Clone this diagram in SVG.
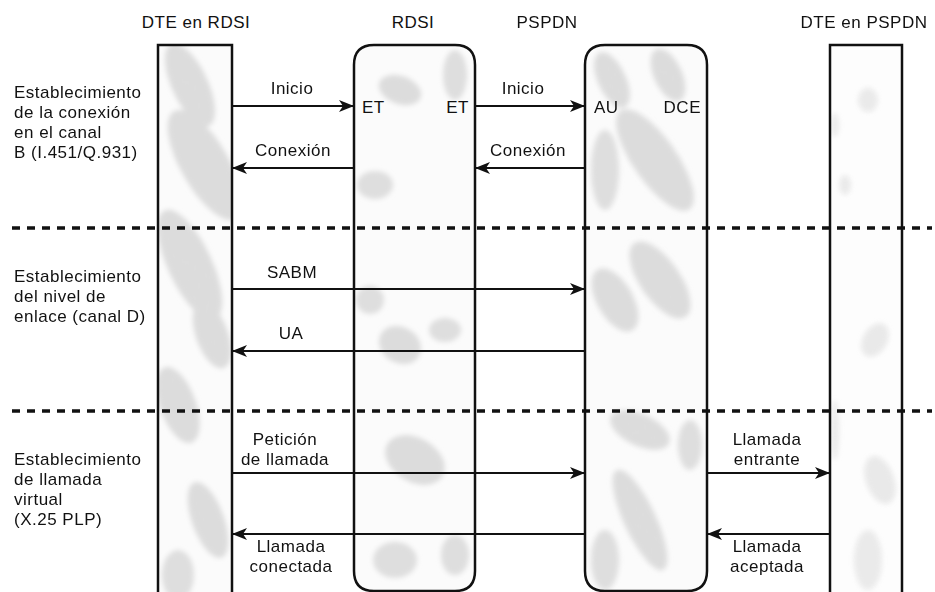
<svg xmlns="http://www.w3.org/2000/svg" width="935" height="592" viewBox="0 0 935 592">
<style>
text{font-family:"Liberation Sans",Arial,sans-serif;font-size:17px;letter-spacing:0.5px;fill:#111}
.c{text-anchor:middle}
.e{text-anchor:end}
.edge{fill:none;stroke:#111;stroke-width:2.5}
.blot{fill:url(#dots)}
.arr{fill:none;stroke:#111;stroke-width:2.2}
.dash{fill:none;stroke:#111;stroke-width:3.5;stroke-dasharray:8 7}
</style>
<defs>
<pattern id="dots" width="2" height="2" patternUnits="userSpaceOnUse">
<rect width="2" height="2" fill="#f4f4f4"/>
<rect width="1" height="1" fill="#b2b2b2"/>
<rect x="1" y="1" width="1" height="1" fill="#d6d6d6"/>
</pattern>
<filter id="soft" x="-10%" y="-10%" width="120%" height="120%"><feGaussianBlur stdDeviation="2.5"/></filter>
<marker id="ah" markerWidth="16" markerHeight="13" refX="15" refY="6.5" orient="auto" markerUnits="userSpaceOnUse">
<path d="M0,0.5 L15,6.5 L0,12.5 L4,6.5 Z" fill="#111"/>
</marker>
<clipPath id="clip1"><rect x="158" y="45" width="74" height="547"/></clipPath>
<clipPath id="clip2"><path d="M354,571 V65 Q354,45 374,45 H455 Q475,45 475,65 V571 Q475,591 455,591 H374 Q354,591 354,571 Z"/></clipPath>
<clipPath id="clip3"><path d="M585,571 V65 Q585,45 605,45 H687 Q707,45 707,65 V571 Q707,591 687,591 H605 Q585,591 585,571 Z"/></clipPath>
<clipPath id="clip4"><rect x="830" y="45" width="72" height="547"/></clipPath>
</defs>

<g id="dte-rdsi">
<rect x="158" y="45" width="74" height="560" fill="#fbfbfb"/>
<g clip-path="url(#clip1)"><g filter="url(#soft)">
<ellipse class="blot" cx="190" cy="85" rx="18" ry="45" transform="rotate(-25 190 85)"/>
<ellipse class="blot" cx="205" cy="165" rx="24" ry="62" transform="rotate(-30 205 165)"/>
<ellipse class="blot" cx="190" cy="265" rx="22" ry="60" transform="rotate(-25 190 265)"/>
<ellipse class="blot" cx="212" cy="335" rx="16" ry="35" transform="rotate(-20 212 335)"/>
<ellipse class="blot" cx="178" cy="405" rx="18" ry="40" transform="rotate(-20 178 405)"/>
<ellipse class="blot" cx="208" cy="520" rx="16" ry="40" transform="rotate(-20 208 520)"/>
<ellipse class="blot" cx="178" cy="575" rx="16" ry="25"/>
</g></g>
<path class="edge" d="M158,592 V45 H232 V592"/>
<text class="c" x="196" y="28">DTE en RDSI</text>
</g>

<g id="rdsi">
<path d="M354,571 V65 Q354,45 374,45 H455 Q475,45 475,65 V571 Q475,591 455,591 H374 Q354,591 354,571 Z" fill="#fbfbfb"/>
<g clip-path="url(#clip2)"><g filter="url(#soft)">
<ellipse class="blot" cx="400" cy="90" rx="22" ry="14" transform="rotate(20 400 90)"/>
<ellipse class="blot" cx="455" cy="75" rx="12" ry="25"/>
<ellipse class="blot" cx="375" cy="185" rx="18" ry="14"/>
<ellipse class="blot" cx="370" cy="300" rx="14" ry="14"/>
<ellipse class="blot" cx="400" cy="345" rx="22" ry="18" transform="rotate(30 400 345)"/>
<ellipse class="blot" cx="445" cy="330" rx="16" ry="12"/>
<ellipse class="blot" cx="415" cy="460" rx="32" ry="22" transform="rotate(30 415 460)"/>
<ellipse class="blot" cx="395" cy="560" rx="22" ry="18"/>
<ellipse class="blot" cx="455" cy="555" rx="14" ry="20"/>
</g></g>
<path class="edge" d="M354,571 V65 Q354,45 374,45 H455 Q475,45 475,65 V571 Q475,591 455,591 H374 Q354,591 354,571 Z"/>
<text class="c" x="413" y="28">RDSI</text>
<text x="362" y="113">ET</text>
<text class="e" x="469" y="113">ET</text>
</g>

<g id="pspdn">
<path d="M585,571 V65 Q585,45 605,45 H687 Q707,45 707,65 V571 Q707,591 687,591 H605 Q585,591 585,571 Z" fill="#fbfbfb"/>
<g clip-path="url(#clip3)"><g filter="url(#soft)">
<ellipse class="blot" cx="612" cy="80" rx="14" ry="30" transform="rotate(-25 612 80)"/>
<ellipse class="blot" cx="668" cy="75" rx="14" ry="28" transform="rotate(-25 668 75)"/>
<ellipse class="blot" cx="655" cy="160" rx="22" ry="60" transform="rotate(-35 655 160)"/>
<ellipse class="blot" cx="605" cy="170" rx="14" ry="40"/>
<ellipse class="blot" cx="660" cy="280" rx="20" ry="45" transform="rotate(-35 660 280)"/>
<ellipse class="blot" cx="615" cy="300" rx="18" ry="35" transform="rotate(-30 615 300)"/>
<ellipse class="blot" cx="640" cy="430" rx="32" ry="16" transform="rotate(25 640 430)"/>
<ellipse class="blot" cx="690" cy="445" rx="12" ry="25"/>
<ellipse class="blot" cx="640" cy="520" rx="16" ry="55" transform="rotate(-25 640 520)"/>
<ellipse class="blot" cx="605" cy="560" rx="14" ry="30"/>
</g></g>
<path class="edge" d="M585,571 V65 Q585,45 605,45 H687 Q707,45 707,65 V571 Q707,591 687,591 H605 Q585,591 585,571 Z"/>
<text class="c" x="547" y="28">PSPDN</text>
<text x="594" y="113">AU</text>
<text class="e" x="701" y="113">DCE</text>
</g>

<g id="dte-pspdn">
<rect x="830" y="45" width="72" height="560" fill="#fdfdfd"/>
<g clip-path="url(#clip4)" opacity="0.6"><g filter="url(#soft)">
<ellipse class="blot" cx="868" cy="100" rx="10" ry="12"/>
<ellipse class="blot" cx="835" cy="125" rx="4" ry="12"/>
<ellipse class="blot" cx="845" cy="185" rx="6" ry="10"/>
<ellipse class="blot" cx="875" cy="340" rx="12" ry="18" transform="rotate(30 875 340)"/>
<ellipse class="blot" cx="880" cy="480" rx="14" ry="25" transform="rotate(-20 880 480)"/>
<ellipse class="blot" cx="868" cy="560" rx="14" ry="30"/>
<ellipse class="blot" cx="835" cy="430" rx="4" ry="30"/>
</g></g>
<path class="edge" d="M830,592 V45 H902 V592"/>
<text class="c" x="864" y="28">DTE en PSPDN</text>
</g>

<g id="phase-labels">
<text x="14" y="98">Establecimiento</text>
<text x="14" y="118">de la conexión</text>
<text x="14" y="138">en el canal</text>
<text x="14" y="158">B (I.451/Q.931)</text>
<text x="14" y="282">Establecimiento</text>
<text x="14" y="302">del nivel de</text>
<text x="14" y="322">enlace (canal D)</text>
<text x="14" y="465">Establecimiento</text>
<text x="14" y="485">de llamada</text>
<text x="14" y="505">virtual</text>
<text x="14" y="525">(X.25 PLP)</text>
</g>

<g id="connectors">
<line class="arr" x1="232" y1="106" x2="354" y2="106" marker-end="url(#ah)"/>
<text class="c" x="292" y="94">Inicio</text>
<line class="arr" x1="354" y1="168" x2="232" y2="168" marker-end="url(#ah)"/>
<text class="c" x="293" y="156">Conexión</text>
<line class="arr" x1="475" y1="106" x2="585" y2="106" marker-end="url(#ah)"/>
<text class="c" x="523" y="94">Inicio</text>
<line class="arr" x1="585" y1="168" x2="475" y2="168" marker-end="url(#ah)"/>
<text class="c" x="528" y="156">Conexión</text>

<line class="arr" x1="232" y1="289" x2="585" y2="289" marker-end="url(#ah)"/>
<text class="c" x="292" y="278">SABM</text>
<line class="arr" x1="585" y1="351" x2="232" y2="351" marker-end="url(#ah)"/>
<text class="c" x="291" y="339">UA</text>

<line class="arr" x1="232" y1="473" x2="585" y2="473" marker-end="url(#ah)"/>
<text class="c" x="285" y="445">Petición</text>
<text class="c" x="285" y="465">de llamada</text>
<line class="arr" x1="585" y1="534" x2="232" y2="534" marker-end="url(#ah)"/>
<text class="c" x="291" y="552">Llamada</text>
<text class="c" x="291" y="572">conectada</text>
<line class="arr" x1="707" y1="473" x2="830" y2="473" marker-end="url(#ah)"/>
<text class="c" x="767" y="445">Llamada</text>
<text class="c" x="767" y="465">entrante</text>
<line class="arr" x1="830" y1="534" x2="707" y2="534" marker-end="url(#ah)"/>
<text class="c" x="767" y="552">Llamada</text>
<text class="c" x="767" y="572">aceptada</text>
</g>

<g id="separators">
<line class="dash" x1="12" y1="228" x2="932" y2="228"/>
<line class="dash" x1="12" y1="411" x2="932" y2="411"/>
</g>
</svg>
